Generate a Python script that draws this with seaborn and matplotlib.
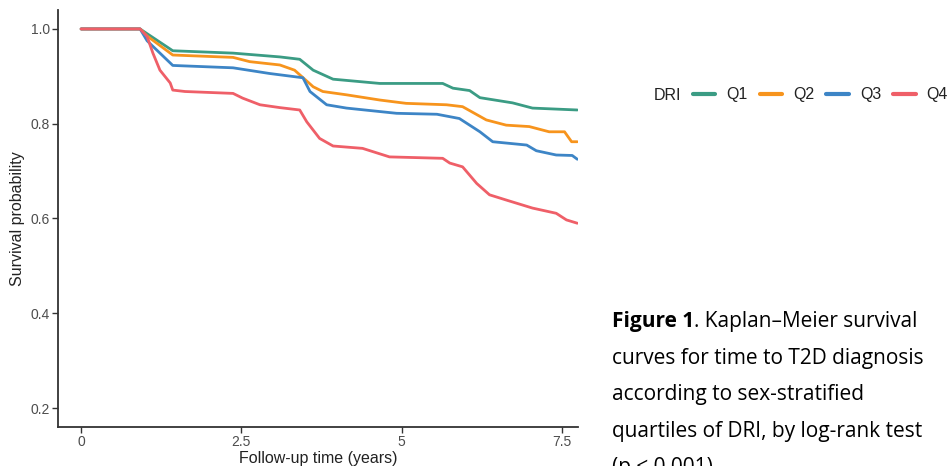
import numpy as np
import pandas as pd
import matplotlib
matplotlib.use("Agg")
import matplotlib.pyplot as plt
import seaborn as sns
from matplotlib.lines import Line2D

# ---- data ----
q1_t = [0, 0.92, 1.03, 1.43, 2.37, 3.10, 3.41, 3.62, 3.93, 4.66, 5.64, 5.80, 6.06, 6.22, 6.73, 7.04, 7.74]
q1_s = [1.0, 1.0, 0.99, 0.954, 0.949, 0.941, 0.936, 0.913, 0.894, 0.885, 0.885, 0.875, 0.870, 0.855, 0.844, 0.833, 0.829]

q2_t = [0, 0.92, 1.03, 1.43, 2.37, 2.63, 3.10, 3.33, 3.62, 3.77, 4.14, 4.66, 5.07, 5.70, 5.95, 6.32, 6.63, 6.99, 7.30, 7.54, 7.65, 7.74]
q2_s = [1.0, 1.0, 0.985, 0.945, 0.940, 0.931, 0.924, 0.913, 0.878, 0.868, 0.861, 0.850, 0.843, 0.840, 0.836, 0.808, 0.797, 0.794, 0.783, 0.783, 0.762, 0.762]

q3_t = [0, 0.92, 1.03, 1.43, 2.37, 2.94, 3.46, 3.57, 3.83, 4.14, 4.92, 5.55, 5.90, 6.22, 6.42, 6.95, 7.10, 7.41, 7.66, 7.74]
q3_s = [1.0, 1.0, 0.975, 0.923, 0.918, 0.906, 0.897, 0.868, 0.840, 0.833, 0.822, 0.820, 0.811, 0.783, 0.762, 0.755, 0.743, 0.734, 0.733, 0.725]

q4_t = [0, 0.92, 1.03, 1.12, 1.23, 1.39, 1.43, 1.62, 2.37, 2.52, 2.79, 3.10, 3.41, 3.52, 3.72, 3.93, 4.39, 4.81, 5.64, 5.75, 5.95, 6.17, 6.37, 6.63, 7.04, 7.41, 7.57, 7.74]
q4_s = [1.0, 1.0, 0.984, 0.949, 0.913, 0.886, 0.871, 0.868, 0.864, 0.854, 0.840, 0.834, 0.829, 0.804, 0.769, 0.753, 0.748, 0.730, 0.727, 0.717, 0.709, 0.674, 0.650, 0.639, 0.622, 0.611, 0.597, 0.590]

groups = ["Q1", "Q2", "Q3", "Q4"]
colors = ["#3b9c84", "#f7941d", "#3d85c6", "#ef5f68"]
x_ticks = [0, 2.5, 5, 7.5]
x_tick_labels = ["0", "2.5", "5", "7.5"]
y_ticks = [0.2, 0.4, 0.6, 0.8, 1.0]

frames = []
for g, t, s in zip(groups, [q1_t, q2_t, q3_t, q4_t], [q1_s, q2_s, q3_s, q4_s]):
    frames.append(pd.DataFrame({"time": t, "surv": s, "DRI": g}))
df = pd.concat(frames, ignore_index=True)

sns.set_theme(style="white")
plt.rcParams['font.family'] = ['Liberation Sans', 'DejaVu Sans']

fig = plt.figure(figsize=(9.5, 4.66), dpi=100)
ax = fig.add_axes([58/950, 39/466, 520/950, 417/466])

sns.lineplot(data=df, x="time", y="surv", hue="DRI", palette=colors,
             linewidth=2.0, ax=ax, legend=False, sort=False, estimator=None)

ax.set_xlim(-0.36, 7.75)
ax.set_ylim(0.16, 1.04)
ax.set_xticks(x_ticks)
ax.set_xticklabels(x_tick_labels)
ax.set_yticks(y_ticks)
ax.set_yticklabels([f"{v:.1f}" for v in y_ticks])
ax.tick_params(axis='both', which='both', length=4, width=1, color='#333333',
               labelsize=10, labelcolor='#4d4d4d', direction='out', pad=2,
               bottom=True, left=True)
for side in ["top", "right"]:
    ax.spines[side].set_visible(False)
for side in ["left", "bottom"]:
    ax.spines[side].set_color('#333333')
    ax.spines[side].set_linewidth(1.3)

ax.set_xlabel("Follow-up time (years)", fontsize=11.5, color='#222222', labelpad=1)
ax.set_ylabel("Survival probability", fontsize=11.5, color='#222222', labelpad=4)

# legend (horizontal, title at left)
handles = [Line2D([0], [0], color=c, lw=3) for c in colors]
leg = fig.legend(handles, groups, ncol=4, loc="center left",
                 bbox_to_anchor=(693/950, 1 - 95/466), frameon=False,
                 fontsize=11.5, handlelength=1.4,
                 handletextpad=0.7, columnspacing=0.75, borderaxespad=0, borderpad=0)
for txt in leg.get_texts():
    txt.set_color('#222222')
fig.text(654/950, 1 - 95/466, "DRI", fontsize=11.5, color='#222222', va='center', ha='left')

# caption
cap_font = ['Open Sans', 'DejaVu Sans']
cap_size = 15
x0 = 612/950
baselines = [327, 364, 400, 437, 473]
t1 = fig.text(x0, 1 - baselines[0]/466, "Figure 1", fontsize=cap_size, fontweight='bold',
              va='baseline', ha='left', family=cap_font, color='black')
fig.canvas.draw()
bb = t1.get_window_extent()
fig.text(bb.x1/950, 1 - baselines[0]/466, ". Kaplan\u2013Meier survival", fontsize=cap_size,
         va='baseline', ha='left', family=cap_font, color='black')
rest = ["curves for time to T2D diagnosis",
        "according to sex-stratified",
        "quartiles of DRI, by log-rank test",
        "(p < 0.001)"]
for yy, s in zip(baselines[1:], rest):
    fig.text(x0, 1 - yy/466, s, fontsize=cap_size, va='baseline', ha='left',
             family=cap_font, color='black')

fig.savefig("out.png", dpi=100)
